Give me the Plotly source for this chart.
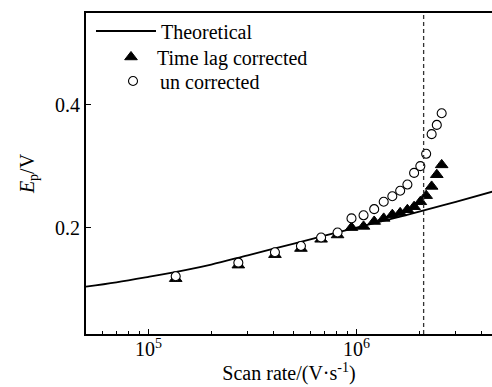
import plotly.graph_objects as go

# Theoretical peak potential curve (scan rate in V/s, Ep in V)
theory_rate = [5e4, 7e4, 1e5, 1.5e5, 2e5, 3e5, 5e5, 7e5, 1e6, 1.5e6, 2e6, 3e6, 4.5e6]
theory_ep = [0.104, 0.111, 0.120, 0.131, 0.140, 0.155, 0.174, 0.187, 0.200, 0.215, 0.226, 0.242, 0.2585]

# Measured scan rates (V/s)
scan_rate = [1.35e5, 2.70e5, 4.05e5, 5.40e5, 6.75e5, 8.10e5, 9.45e5, 1.08e6, 1.215e6, 1.35e6,
             1.485e6, 1.62e6, 1.755e6, 1.89e6, 2.025e6, 2.16e6, 2.295e6, 2.43e6, 2.565e6]

# Time-lag corrected peak potentials (V)
ep_corrected = [0.117, 0.139, 0.156, 0.166, 0.181, 0.188, 0.200, 0.202, 0.210, 0.215,
                0.221, 0.224, 0.229, 0.234, 0.242, 0.252, 0.267, 0.286, 0.302]

# Uncorrected peak potentials (V)
ep_uncorrected = [0.121, 0.143, 0.160, 0.170, 0.184, 0.192, 0.215, 0.220, 0.230, 0.242,
                  0.251, 0.260, 0.270, 0.289, 0.300, 0.320, 0.352, 0.367, 0.386]

# Scan rate marked by the vertical dashed line
critical_rate = 2.1e6

# Log-axis tick positions
major_ticks = [1e5, 1e6]
minor_ticks = [6e4, 7e4, 8e4, 9e4,
               2e5, 3e5, 4e5, 5e5, 6e5, 7e5, 8e5, 9e5,
               2e6, 3e6, 4e6]

FONT = "Liberation Serif"
legend_font = dict(family=FONT, size=20, color="black")

fig = go.Figure()
fig.add_trace(go.Scatter(
    x=theory_rate, y=theory_ep, mode="lines", name="Theoretical",
    line=dict(color="black", width=1.8, shape="spline"),
    legend="legend",
))
fig.add_trace(go.Scatter(
    x=scan_rate, y=ep_corrected, mode="markers", name="Time lag corrected",
    marker=dict(symbol="triangle-up", size=11, color="black",
                line=dict(color="black", width=1)),
    legend="legend2",
))
fig.add_trace(go.Scatter(
    x=scan_rate, y=ep_uncorrected, mode="markers", name="un corrected",
    marker=dict(symbol="circle", size=9, color="white",
                line=dict(color="black", width=1.1)),
    legend="legend3",
))

fig.add_shape(type="line", x0=critical_rate, x1=critical_rate, xref="x",
              y0=0, y1=1, yref="paper",
              line=dict(color="#333333", width=1.3, dash="4px,3px"))

# One legend box per entry, stacked at the top left of the plot area
legend_common = dict(xanchor="left", yanchor="middle", bgcolor="rgba(0,0,0,0)",
                     borderwidth=0, font=legend_font)

fig.update_layout(
    width=492, height=387,
    margin=dict(l=86, r=0, t=13, b=53),
    paper_bgcolor="white", plot_bgcolor="white",
    font=dict(family=FONT, size=20, color="black"),
    showlegend=True,
    legend=dict(x=0.0123, y=0.944, itemwidth=60, **legend_common),
    legend2=dict(x=0.0468, y=0.863, itemwidth=42, **legend_common),
    legend3=dict(x=0.0493, y=0.788, itemwidth=44, **legend_common),
    xaxis=dict(
        type="log", range=[4.699, 6.651],
        showline=True, linecolor="black", linewidth=1.8, mirror=True,
        showgrid=False, zeroline=False,
        ticks="inside", ticklen=5, tickwidth=1.2, tickcolor="black",
        tickvals=major_ticks, ticktext=["10<sup>5</sup>", "10<sup>6</sup>"],
        ticklabelstandoff=-4,
        minor=dict(ticks="inside", ticklen=3, tickwidth=1, tickcolor="black",
                   tickvals=minor_ticks, showgrid=False),
        tickfont=dict(family=FONT, size=20, color="black"),
        title=dict(text="Scan rate/(V·s<sup>-1</sup>)", standoff=4,
                   font=dict(family=FONT, size=20, color="black")),
    ),
    yaxis=dict(
        range=[0.027, 0.549],
        showline=True, linecolor="black", linewidth=1.8, mirror=False,
        showgrid=False, zeroline=False,
        ticks="inside", ticklen=5, tickwidth=1.2, tickcolor="black",
        tickvals=[0.2, 0.4], ticktext=["0.2", "0.4"],
        tickfont=dict(family=FONT, size=20, color="black"),
        title=dict(text="<i>E</i><sub>p</sub>/V", standoff=15,
                   font=dict(family=FONT, size=20, color="black")),
    ),
)

fig.write_html("out.html")
